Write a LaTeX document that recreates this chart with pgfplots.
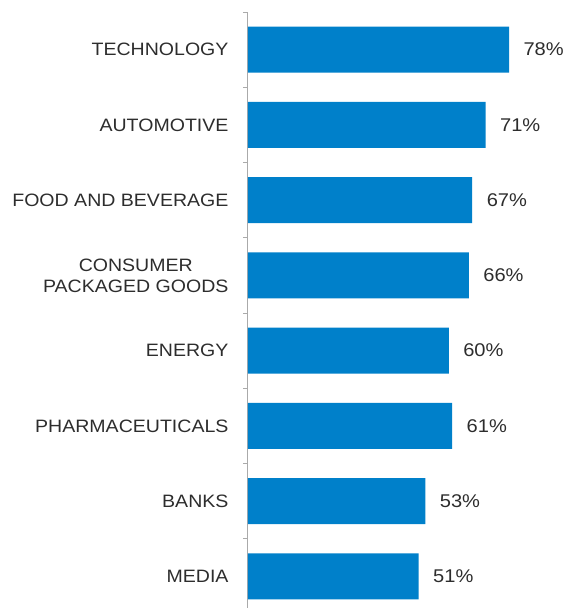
\documentclass[border=0pt]{standalone}
\usepackage{fontspec}
\setmainfont{Liberation Sans}[FakeStretch=1.09]
\usepackage{pgfplots}
\pgfplotsset{compat=1.18}
\definecolor{barblue}{RGB}{0,128,202}
\definecolor{labgray}{RGB}{45,45,45}
\definecolor{axgray}{RGB}{170,170,170}
\begin{document}
\begin{tikzpicture}
\begin{axis}[
  at={(0,0)}, anchor=south west,
  scale only axis,
  width=328bp, height=596bp,
  xbar, bar width=46bp,
  xmin=0, xmax=98,
  ymin=-0.5, ymax=7.42,
  y dir=reverse,
  axis x line=none,
  axis y line*=left,
  y axis line style={draw=axgray, line width=1pt, -},
  ytick={0,...,7},
  yticklabels={TECHNOLOGY,AUTOMOTIVE,FOOD AND BEVERAGE,{CONSUMER\\PACKAGED GOODS},ENERGY,PHARMACEUTICALS,BANKS,MEDIA},
  major tick length=0pt,
  minor ytick={-0.5,0.5,...,6.5},
  minor tick length=5bp,
  tick align=outside,
  minor tick style={draw=axgray, line width=1pt},
  yticklabel style={font=\fontsize{18}{21}\selectfont, text=labgray, align=center, xshift=-16bp},
  /pgf/number format/assume math mode=true,
  nodes near coords={\pgfmathprintnumber{\pgfplotspointmeta}\%},
  nodes near coords style={font=\fontsize{18.5}{20}\selectfont, text=labgray, anchor=west, xshift=11bp},
  clip=false,
]
\addplot[fill=barblue, draw=none] coordinates {
  (78,0) (71,1) (67,2) (66,3) (60,4) (61,5) (53,6) (51,7)
};
\end{axis}
\pgfresetboundingbox
\path[use as bounding box] (-248bp,0) rectangle (328bp,608bp);
\end{tikzpicture}
\end{document}
